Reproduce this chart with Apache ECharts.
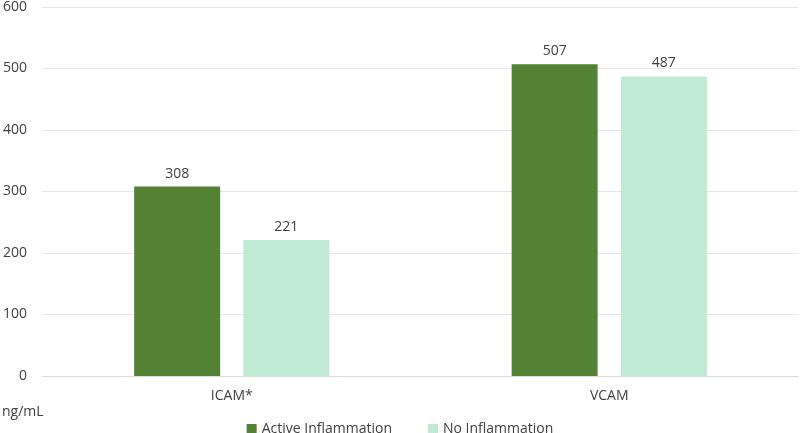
<!DOCTYPE html>
<html>
<head>
<meta charset="utf-8">
<script src="https://cdn.jsdelivr.net/npm/echarts@6/dist/echarts.min.js"></script>
<style>
  html, body { margin: 0; padding: 0; background: #fff; }
  #chart { width: 800px; height: 433px; }
</style>
</head>
<body>
<div id="chart"></div>
<script>
// data
const categories = ['ICAM*', 'VCAM']
const activeInflammation = [308, 507]
const noInflammation = [221, 487]
const seriesNames = ['Active Inflammation', 'No Inflammation']

const textColor = '#404040'
const fontFamily = '"Open Sans", "Noto Sans", sans-serif'

const chart = echarts.init(document.getElementById('chart'))

chart.setOption({
  animation: false,
  textStyle: { fontFamily: fontFamily, color: textColor },
  grid: { left: 42, right: 2, top: 5, bottom: 57, containLabel: false },
  legend: {
    top: 417,
    left: 'center',
    itemWidth: 10,
    itemHeight: 10,
    itemGap: 36,
    icon: 'rect',
    textStyle: { fontSize: 14, color: textColor, fontFamily: fontFamily },
    data: seriesNames
  },
  graphic: [{
    type: 'text',
    left: 2,
    top: 405,
    style: { text: 'ng/mL', fontSize: 14, fill: textColor, fontFamily: fontFamily }
  }],
  xAxis: {
    type: 'category',
    data: categories,
    axisLine: { show: true, lineStyle: { color: '#d9d9d9' } },
    axisTick: { show: false },
    axisLabel: { fontSize: 14, color: textColor, margin: 13 }
  },
  yAxis: {
    type: 'value',
    min: 0,
    max: 600,
    interval: 100,
    axisLine: { show: false },
    axisTick: { show: false },
    axisLabel: { fontSize: 14, color: textColor, margin: 16 },
    splitLine: { lineStyle: { color: '#e6e6e6' } }
  },
  series: [
    {
      name: seriesNames[0],
      type: 'bar',
      data: activeInflammation,
      barWidth: 86,
      barGap: '27%',
      itemStyle: { color: '#548235' },
      label: { show: true, position: 'top', fontSize: 14, color: textColor, distance: 6 }
    },
    {
      name: seriesNames[1],
      type: 'bar',
      data: noInflammation,
      barWidth: 86,
      itemStyle: { color: '#c1ead5' },
      label: { show: true, position: 'top', fontSize: 14, color: textColor, distance: 6 }
    }
  ]
})

window.addEventListener('resize', () => {
  chart.resize()
})
</script>
</body>
</html>
